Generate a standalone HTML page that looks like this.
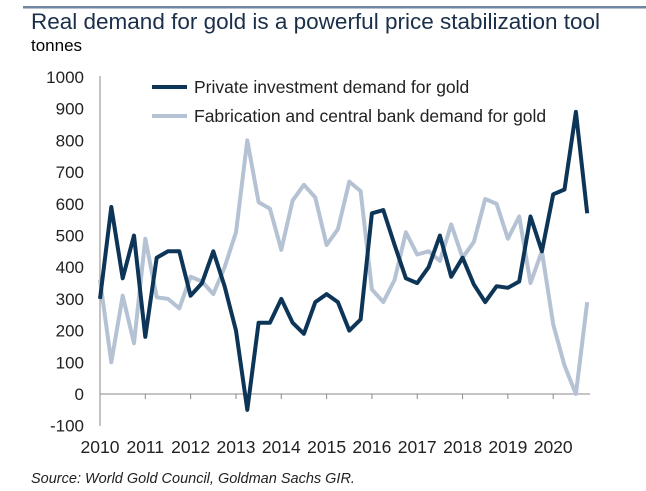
<!DOCTYPE html>
<html><head><meta charset="utf-8"><style>
body{margin:0;background:#fff;}
svg{display:block;font-family:"Liberation Sans",Arial,sans-serif;}
</style></head><body>
<svg id="c" width="646" height="491" viewBox="0 0 646 491" xmlns="http://www.w3.org/2000/svg">
<rect width="646" height="491" fill="#fff"/>
<rect x="23" y="6" width="623" height="2.5" fill="#6e86a0"/>
<text x="31" y="29" font-size="22.5" fill="#1a2f4a">Real demand for gold is a powerful price stabilization tool</text>
<text x="31" y="51" font-size="17" fill="#000">tonnes</text>
<g font-size="17" fill="#222" text-anchor="end" id="yl"></g>
<g font-size="17.5" fill="#222" text-anchor="middle" id="xl"></g>
<line x1="100" y1="76" x2="100" y2="426" stroke="#888" stroke-width="1"/>
<line x1="100" y1="394" x2="590" y2="394" stroke="#888" stroke-width="1"/>
<g id="ticks" stroke="#888" stroke-width="1"></g>
<polyline id="light" fill="none" stroke="#b4c2d4" stroke-width="4" stroke-linejoin="round"/>
<polyline id="dark" fill="none" stroke="#0d3557" stroke-width="4" stroke-linejoin="round"/>
<line x1="152" y1="87" x2="187" y2="87" stroke="#0d3557" stroke-width="4"/>
<line x1="152" y1="116" x2="187" y2="116" stroke="#b4c2d4" stroke-width="4"/>
<text x="194" y="93" font-size="17.5" fill="#222">Private investment demand for gold</text>
<text x="194" y="122" font-size="17.5" fill="#222">Fabrication and central bank demand for gold</text>
<text x="31" y="483" font-size="14.5" font-style="italic" fill="#222">Source: World Gold Council, Goldman Sachs GIR.</text>
</svg>
<script>
var NS="http://www.w3.org/2000/svg";
function Y(v){return 394-v*0.317;}
function X(i){return 100+i*11.33;}
var dark=[300,590,365,500,180,430,450,450,310,350,450,340,200,-50,225,225,300,225,190,290,315,290,200,235,570,580,470,365,350,400,500,370,430,345,290,340,335,355,560,450,630,645,890,570];
var light=[360,100,310,160,490,305,300,270,370,355,315,400,510,800,605,585,455,610,660,620,470,520,670,640,330,290,360,510,440,450,420,535,430,480,615,600,490,560,350,450,220,90,0,290];
function pts(a){return a.map(function(v,i){return X(i).toFixed(1)+","+Y(v).toFixed(1)}).join(" ");}
document.getElementById("dark").setAttribute("points",pts(dark));
document.getElementById("light").setAttribute("points",pts(light));
var yl=document.getElementById("yl");
for(var v=-100;v<=1000;v+=100){var t=document.createElementNS(NS,"text");t.setAttribute("x","84");t.setAttribute("y",(Y(v)+6).toFixed(1));t.textContent=v;yl.appendChild(t);}
var xl=document.getElementById("xl"),tk=document.getElementById("ticks");
for(var k=0;k<=10;k++){var x=100+k*45.32;var t=document.createElementNS(NS,"text");t.setAttribute("x",x.toFixed(1));t.setAttribute("y","453");t.textContent=2010+k;xl.appendChild(t);
if(k>0){var l=document.createElementNS(NS,"line");l.setAttribute("x1",x);l.setAttribute("x2",x);l.setAttribute("y1","394");l.setAttribute("y2","399");tk.appendChild(l);}}
</script>
</body></html>
